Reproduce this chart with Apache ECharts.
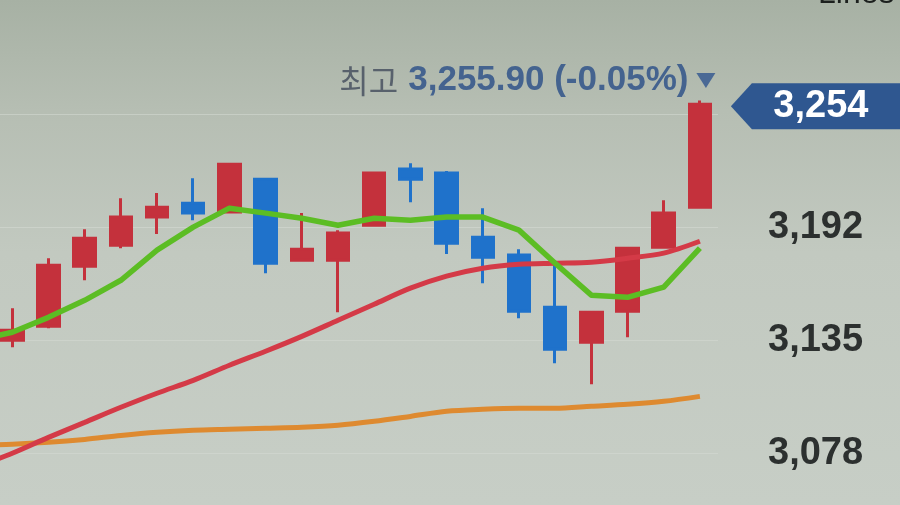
<!DOCTYPE html>
<html>
<head>
<meta charset="utf-8">
<script src="https://cdn.jsdelivr.net/npm/echarts/dist/echarts.min.js"></script>
<style>
html,body{margin:0;padding:0;width:900px;height:505px;overflow:hidden;position:relative;
background:linear-gradient(180deg,#a7b1a4 0%,#b6beb3 22%,#c2c9c0 50%,#c7cec6 100%);}
#chart{position:absolute;left:-42px;top:-10px;width:942px;height:576px;}
</style>
</head>
<body>
<div id="chart"></div>
<script>
// ---- data (index 0 is an off-screen leading session that only carries moving-average values) ----
const categories = ['D0','D1','D2','D3','D4','D5','D6','D7','D8','D9','D10','D11','D12','D13','D14','D15','D16','D17','D18','D19','D20'];
const opens  = [null, 3134.9, 3142.0, 3172.3, 3182.9, 3197.1, 3204.1, 3199.6, 3216.2, 3175.3, 3175.3, 3193.0, 3221.3, 3219.3, 3186.9, 3177.9, 3151.6, 3133.9, 3149.6, 3181.9, 3202.1];
const closes = [null, 3140.0, 3172.8, 3186.4, 3197.1, 3202.1, 3199.1, 3223.8, 3173.8, 3180.9, 3189.0, 3219.3, 3216.2, 3183.9, 3176.8, 3149.6, 3130.4, 3149.1, 3181.4, 3199.1, 3254.0];
const lows   = [null, 3131.4, 3141.0, 3165.2, 3181.4, 3188.5, 3195.5, 3199.6, 3168.8, 3175.3, 3149.1, 3193.0, 3204.6, 3178.4, 3163.7, 3146.0, 3123.3, 3112.7, 3136.4, 3181.9, 3202.1];
const highs  = [null, 3151.1, 3176.3, 3191.0, 3206.6, 3209.2, 3216.7, 3223.8, 3216.2, 3199.1, 3190.5, 3219.3, 3224.3, 3220.3, 3201.6, 3180.9, 3175.3, 3149.1, 3181.4, 3205.6, 3255.9];
const ma5    = [3134.9, 3139.0, 3146.5, 3155.1, 3165.2, 3180.4, 3192.0, 3201.6, 3199.1, 3196.5, 3193.0, 3196.5, 3195.5, 3197.1, 3197.1, 3190.5, 3173.8, 3157.7, 3156.6, 3161.7, 3181.4];
const ma20   = [3070.8, 3077.9, 3085.9, 3093.5, 3101.1, 3108.2, 3114.7, 3122.3, 3129.4, 3136.9, 3145.0, 3153.1, 3161.2, 3167.3, 3171.3, 3173.3, 3173.8, 3174.3, 3176.3, 3178.9, 3184.9];
const ma60   = [3081.9, 3082.4, 3083.4, 3084.9, 3086.9, 3088.5, 3089.5, 3090.0, 3090.5, 3091.0, 3092.0, 3094.0, 3096.5, 3099.1, 3100.1, 3100.6, 3100.6, 3101.6, 3102.6, 3104.1, 3106.6];
const yTickLabels = [3078, 3135, 3192];
const gridValues = [3078, 3135, 3192, 3249];
const highValue = 3255.90;
const highChangePct = -0.05;
const highLabelPrefix = '최고';
const lastPrice = 3254;
const cornerText = 'Lines';

// ---- chart ----
const UP = '#c4313c', DOWN = '#1f72cb';
const candleData = categories.map((c, i) => opens[i] == null ? '-' : [opens[i], closes[i], lows[i], highs[i]]);
const lastCat = categories[categories.length - 1];
const fmtHigh = highValue.toLocaleString('en-US', {minimumFractionDigits: 2, maximumFractionDigits: 2});
const fmtPct = '(' + highChangePct.toFixed(2) + '%)';

const chart = echarts.init(document.getElementById('chart'), null, {renderer: 'canvas'});
chart.setOption({
  animation: false,
  backgroundColor: 'transparent',
  grid: {left: 0, right: 182, top: 0, bottom: 0},
  xAxis: {type: 'category', data: categories, boundaryGap: true, show: false},
  yAxis: {
    type: 'value', position: 'right', min: 3021, max: 3311.7, interval: 57,
    axisLine: {show: false}, axisTick: {show: false},
    splitLine: {show: false},
    axisLabel: {
      show: true, margin: 50, fontSize: 38, fontWeight: 'bold', color: '#2c302f',
      fontFamily: 'Liberation Sans',
      formatter: v => yTickLabels.includes(v) ? v.toLocaleString('en-US') : ''
    }
  },
  graphic: [{
    type: 'text', left: 860, top: -12,
    style: {text: cornerText, fontSize: 32, fontFamily: 'Liberation Sans', fill: '#1c201e'}
  }],
  series: [
    {
      type: 'line', name: 'grid', data: [], silent: true, z: 0,
      markLine: {
        silent: true, symbol: 'none', animation: false, label: {show: false}, z: 0,
        lineStyle: {color: 'rgba(214,219,211,0.55)', width: 1, type: 'solid'},
        data: gridValues.map(v => ({yAxis: v}))
      }
    },
    {
      type: 'candlestick', data: candleData, barWidth: 22, clip: false,
      itemStyle: {color: UP, color0: DOWN, borderColor: UP, borderColor0: DOWN, borderWidth: 3},
      markPoint: {
        animation: false,
        data: [
          {
            coord: [lastCat, highValue],
            symbol: 'path://M0,0 L20,0 L10,16 Z', symbolSize: [19, 15], symbolOffset: [6, -20],
            itemStyle: {color: '#4a6995'},
            label: {
              show: true, position: 'left', distance: 8,
              formatter: '{a|' + highLabelPrefix + '}{b|' + fmtHigh + ' ' + fmtPct + '}',
              rich: {
                a: {fontSize: 32, color: '#58616c', fontFamily: 'Noto Sans CJK KR', padding: [0, 10, 0, 0]},
                b: {fontSize: 35, color: '#44638f', fontWeight: 'bold', fontFamily: 'Liberation Sans'}
              }
            }
          },
          {
            coord: [lastCat, lastPrice],
            symbol: 'path://M0,23 L21,0 L180,0 L180,46 L21,46 Z', symbolSize: [180, 46], symbolKeepAspect: false,
            symbolOffset: [121, 2],
            itemStyle: {color: '#2f5790'},
            label: {
              show: true, position: 'inside',
              formatter: lastPrice.toLocaleString('en-US'),
              fontSize: 38, fontWeight: 'bold', color: '#ffffff', fontFamily: 'Liberation Sans'
            }
          }
        ]
      },
      z: 2
    },
    {type: 'line', name: 'MA60', data: ma60, showSymbol: false, smooth: 0.3,
     lineStyle: {color: '#de8a30', width: 5}, z: 3},
    {type: 'line', name: 'MA20', data: ma20, showSymbol: false, smooth: 0.3,
     lineStyle: {color: '#d43a47', width: 5}, z: 4},
    {type: 'line', name: 'MA5', data: ma5, showSymbol: false, smooth: false,
     lineStyle: {color: '#5cbd24', width: 5.5, join: 'round'}, z: 5}
  ]
});
</script>
</body>
</html>
